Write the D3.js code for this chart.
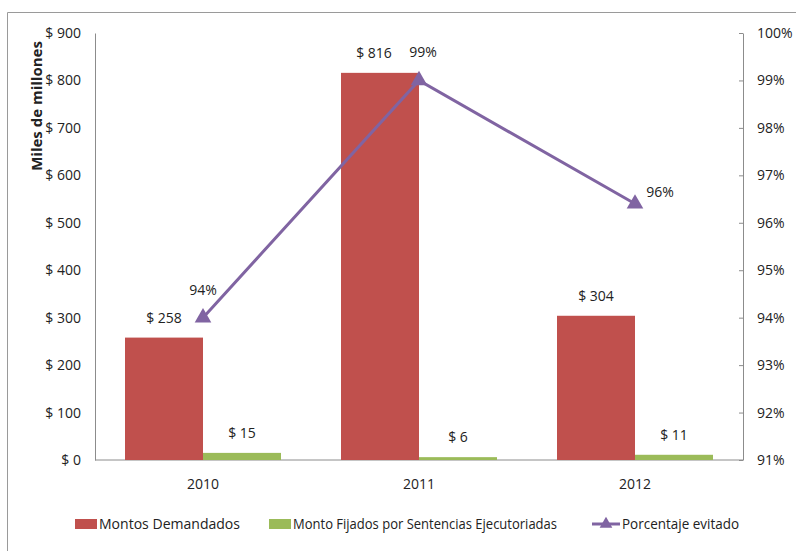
<!DOCTYPE html>
<html>
<head>
<meta charset="utf-8">
<script src="https://cdn.jsdelivr.net/npm/d3@7"></script>
<style>
	body { margin: 0; background: #fff; }
	text { font-family: "Open Sans", sans-serif; fill: #222; }
	.axis path, .axis line { stroke: #8c8c8c; }
	.axis text { font-size: 14px; }
</style>
</head>
<body>
<div id="chart-area"></div>
<script>

// SVG size
var width = 796,
	height = 551;

// data
var years = ["2010", "2011", "2012"];
var demandados = [258, 816, 304];
var fijados = [15, 6, 11];
var evitado = [94.0, 99.0, 96.4];
var evitadoLabels = ["94%", "99%", "96%"];
var leftTicks = [0, 100, 200, 300, 400, 500, 600, 700, 800, 900];
var rightTicks = [91, 92, 93, 94, 95, 96, 97, 98, 99, 100];
var seriesNames = ["Montos Demandados", "Monto Fijados por Sentencias Ejecutoriadas", "Porcentaje evitado"];

var colors = { red: "#c0504d", green: "#9bbb59", purple: "#8064a2" };

var margin = {top: 33, right: 53, bottom: 91, left: 95};
var w = width - margin.left - margin.right,
	h = height - margin.top - margin.bottom;

var svg = d3.select("#chart-area")
	.append("svg")
	.attr("width", width)
	.attr("height", height);

// outer frame (top and left edges visible)
svg.append("line").attr("x1", 7.5).attr("x2", width).attr("y1", 12.5).attr("y2", 12.5)
	.attr("stroke", "#9a9a9a");
svg.append("line").attr("x1", 7.5).attr("x2", 7.5).attr("y1", 12.5).attr("y2", height)
	.attr("stroke", "#9a9a9a");

var g = svg.append("g")
	.attr("transform", "translate(" + margin.left + "," + margin.top + ")");

// scales
var x = d3.scaleBand().domain(years).range([0, w]);
var inner = d3.scaleBand().domain(["d", "f"]).range([30, x.bandwidth() - 30]);
var yLeft = d3.scaleLinear().domain([0, 900]).range([h, 0]);
var yRight = d3.scaleLinear().domain([91, 100]).range([h, 0]);

// axes
g.append("g")
	.attr("class", "axis")
	.call(d3.axisLeft(yLeft).tickValues(leftTicks).tickSize(0).tickPadding(14)
		.tickFormat(function (d) { return "$ " + d; }));

g.append("g")
	.attr("class", "axis")
	.attr("transform", "translate(" + w + ",0)")
	.call(d3.axisRight(yRight).tickValues(rightTicks).tickSizeInner(-4).tickSizeOuter(0).tickPadding(14)
		.tickFormat(function (d) { return d + "%"; }));

var xAxis = g.append("g")
	.attr("class", "axis")
	.attr("transform", "translate(0," + h + ")")
	.call(d3.axisBottom(x).tickSize(0).tickPadding(19));
xAxis.select(".domain").attr("d", "M0,0H" + w);

// bars
var groups = g.selectAll(".year").data(years).enter()
	.append("g")
	.attr("transform", function (d) { return "translate(" + x(d) + ",0)"; });

groups.append("rect")
	.attr("x", inner("d"))
	.attr("width", inner.bandwidth())
	.attr("y", function (d, i) { return yLeft(demandados[i]); })
	.attr("height", function (d, i) { return h - yLeft(demandados[i]); })
	.attr("fill", colors.red);

groups.append("rect")
	.attr("x", inner("f"))
	.attr("width", inner.bandwidth())
	.attr("y", function (d, i) { return yLeft(fijados[i]); })
	.attr("height", function (d, i) { return h - yLeft(fijados[i]); })
	.attr("fill", colors.green);

groups.append("text")
	.attr("x", function (d, i) { return inner("d") + inner.bandwidth() / 2 - (i === 1 ? 6 : 0); })
	.attr("y", function (d, i) { return yLeft(demandados[i]) - 15; })
	.attr("text-anchor", "middle")
	.style("font-size", "14px")
	.text(function (d, i) { return "$ " + demandados[i]; });

groups.append("text")
	.attr("x", inner("f") + inner.bandwidth() / 2)
	.attr("y", function (d, i) { return yLeft(fijados[i]) - 15; })
	.attr("text-anchor", "middle")
	.style("font-size", "14px")
	.text(function (d, i) { return "$ " + fijados[i]; });

// line for percentage
var cx = function (d, i) { return x(years[i]) + x.bandwidth() / 2; };
var line = d3.line()
	.x(function (d, i) { return cx(d, i); })
	.y(function (d) { return yRight(d); });

g.append("path")
	.datum(evitado)
	.attr("d", line)
	.attr("fill", "none")
	.attr("stroke", colors.purple)
	.attr("stroke-width", 3);

var tri = d3.symbol().type(d3.symbolTriangle).size(120);
g.selectAll(".marker").data(evitado).enter()
	.append("path")
	.attr("d", tri)
	.attr("fill", colors.purple)
	.attr("transform", function (d, i) { return "translate(" + cx(d, i) + "," + yRight(d) + ")"; });

g.selectAll(".pct").data(evitado).enter()
	.append("text")
	.attr("x", function (d, i) { return cx(d, i) + (i === 2 ? 25 : i === 1 ? 4 : 0); })
	.attr("y", function (d, i) { return yRight(d) + (i === 2 ? -7 : -23); })
	.attr("text-anchor", "middle")
	.style("font-size", "14px")
	.text(function (d, i) { return evitadoLabels[i]; });

// y axis title
svg.append("text")
	.attr("transform", "translate(42,106) rotate(-90)")
	.attr("text-anchor", "middle")
	.style("font-weight", "bold")
	.style("font-size", "15px")
	.text("Miles de millones");

// legend
var legend = svg.append("g").attr("transform", "translate(0,524)");
var legendX = [75, 269, 592];
var legendTextW = [141, 264, 117];

legend.append("rect").attr("x", legendX[0]).attr("y", -5).attr("width", 22).attr("height", 10).attr("fill", colors.red);
legend.append("rect").attr("x", legendX[1]).attr("y", -5).attr("width", 22).attr("height", 10).attr("fill", colors.green);
legend.append("line").attr("x1", legendX[2]).attr("x2", legendX[2] + 28).attr("y1", 0).attr("y2", 0)
	.attr("stroke", colors.purple).attr("stroke-width", 3);
legend.append("path").attr("d", d3.symbol().type(d3.symbolTriangle).size(70))
	.attr("transform", "translate(" + (legendX[2] + 14) + ",0)").attr("fill", colors.purple);

legend.selectAll(".lt").data(seriesNames).enter()
	.append("text")
	.attr("x", function (d, i) { return legendX[i] + (i === 2 ? 30 : 24); })
	.attr("y", 5)
	.attr("textLength", function (d, i) { return legendTextW[i]; })
	.attr("lengthAdjust", "spacingAndGlyphs")
	.style("font-size", "15px")
	.text(function (d) { return d; });

</script>
</body>
</html>
